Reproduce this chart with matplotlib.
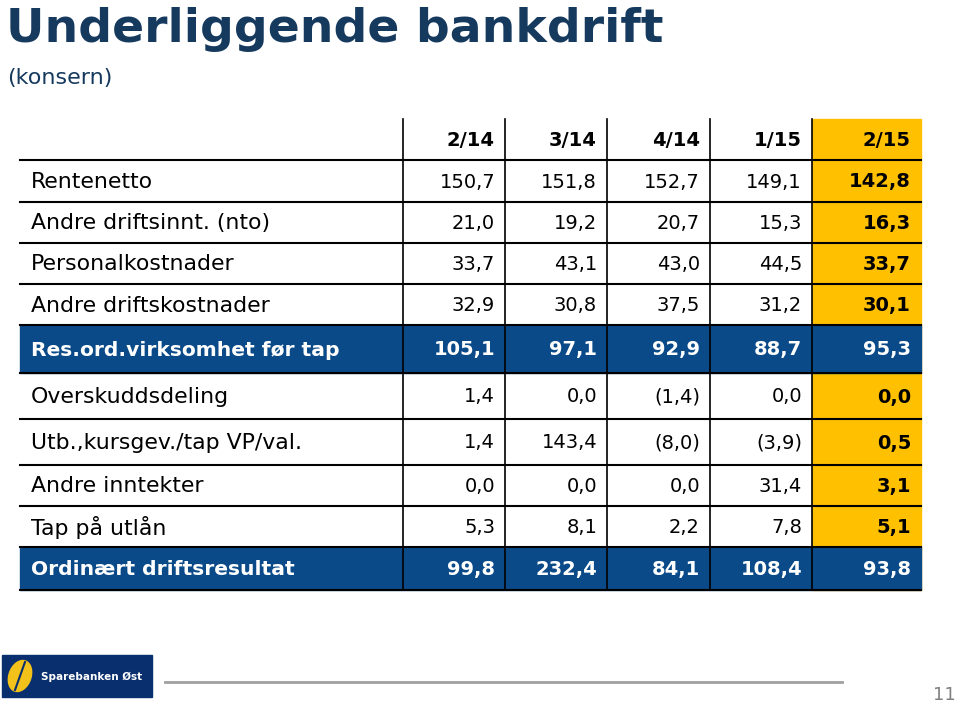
import matplotlib
matplotlib.use("Agg")
import matplotlib.pyplot as plt
from matplotlib.patches import Rectangle, Ellipse

# table content
periods = ["2/14", "3/14", "4/14", "1/15", "2/15"]
row_labels = [
    "Rentenetto",
    "Andre driftsinnt. (nto)",
    "Personalkostnader",
    "Andre driftskostnader",
    "Res.ord.virksomhet før tap",
    "Overskuddsdeling",
    "Utb.,kursgev./tap VP/val.",
    "Andre inntekter",
    "Tap på utlån",
    "Ordinært driftsresultat",
]
q2_14 = ["150,7", "21,0", "33,7", "32,9", "105,1", "1,4", "1,4", "0,0", "5,3", "99,8"]
q3_14 = ["151,8", "19,2", "43,1", "30,8", "97,1", "0,0", "143,4", "0,0", "8,1", "232,4"]
q4_14 = ["152,7", "20,7", "43,0", "37,5", "92,9", "(1,4)", "(8,0)", "0,0", "2,2", "84,1"]
q1_15 = ["149,1", "15,3", "44,5", "31,2", "88,7", "0,0", "(3,9)", "31,4", "7,8", "108,4"]
q2_15 = ["142,8", "16,3", "33,7", "30,1", "95,3", "0,0", "0,5", "3,1", "5,1", "93,8"]
sum_rows = [4, 9]

NAVY = "#163a5e"
BLUE = "#0b4a88"
ORANGE = "#ffc000"

plt.rcParams["font.family"] = ["DejaVu Sans"]

fig = plt.figure(figsize=(9.6, 7.05), dpi=100)
ax = fig.add_axes([0, 0, 1, 1])
ax.set_xlim(0, 960)
ax.set_ylim(705, 0)
ax.axis("off")

# title
ax.text(6, 30, "Underliggende bankdrift", fontsize=34, color=NAVY,
        fontweight="bold", va="center", ha="left")
ax.text(7, 78, "(konsern)", fontsize=16, color=NAVY, va="center", ha="left")

# geometry
x_left, x_lab, x_right = 20, 403, 921
col_edges = [403, 505, 607, 710, 812, 921]
row_edges = [160, 202, 243, 284, 325, 373, 419, 465, 506, 547, 590]
top = 119

cols = [q2_14, q3_14, q4_14, q1_15, q2_15]

# backgrounds
ax.add_patch(Rectangle((col_edges[4], top), col_edges[5] - col_edges[4],
                       row_edges[-1] - top, color=ORANGE, zorder=1))
for r in sum_rows:
    ax.add_patch(Rectangle((x_left, row_edges[r]), x_right - x_left,
                           row_edges[r + 1] - row_edges[r], color=BLUE, zorder=2))

# grid lines
for y in row_edges:
    ax.plot([x_left, x_right], [y, y], color="black", lw=1.5, zorder=3)
for x in col_edges[:-1]:
    ax.plot([x, x], [top, row_edges[-1]], color="black", lw=1.2, zorder=3)

# header
for j, p in enumerate(periods):
    ax.text(col_edges[j + 1] - 10, (top + row_edges[0]) / 2 + 1, p,
            fontsize=14, fontweight="bold", ha="right", va="center", zorder=4)

# body
for i, lab in enumerate(row_labels):
    yc = (row_edges[i] + row_edges[i + 1]) / 2 + 1
    is_sum = i in sum_rows
    tc = "white" if is_sum else "black"
    ax.text(31, yc, lab, fontsize=14.6 if is_sum else 15.8, color=tc,
            fontweight="bold" if is_sum else "normal",
            ha="left", va="center", zorder=4)
    for j, col in enumerate(cols):
        bold = is_sum or j == 4
        ax.text(col_edges[j + 1] - 10, yc, col[i], fontsize=14, color=tc,
                fontweight="bold" if bold else "normal",
                ha="right", va="center", zorder=4)

# footer
ax.add_patch(Rectangle((2, 655), 150, 42, color="#0a2f6e", zorder=2))
ax.add_patch(Ellipse((20, 676), 22, 32, angle=20, color="#f2c21b", zorder=3))
ax.plot([15, 25], [690, 662], color="#0a2f6e", lw=1.5, zorder=4)
ax.text(41, 677, "Sparebanken Øst", fontsize=7.5, color="white",
        fontweight="bold", ha="left", va="center", zorder=4)
ax.plot([165, 842], [682, 682], color="#a0a0a0", lw=2)
ax.text(956, 695, "11", fontsize=13, color="#808080", ha="right", va="center")

fig.savefig("out.png", dpi=100)
